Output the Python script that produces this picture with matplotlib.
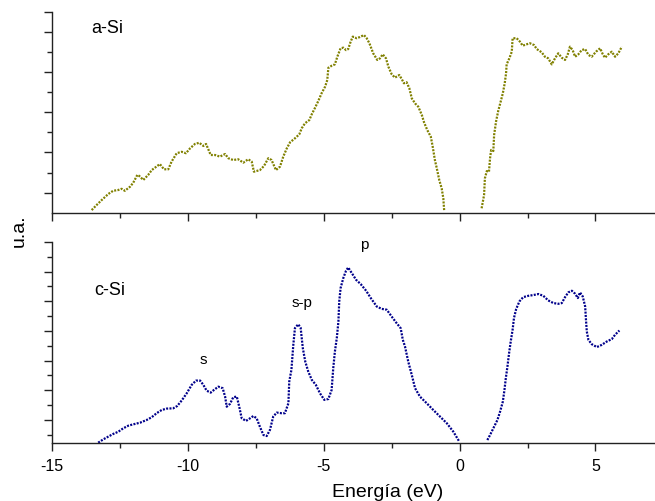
import matplotlib
matplotlib.use("Agg")
import matplotlib.pyplot as plt
from matplotlib.ticker import FixedLocator, FuncFormatter
import numpy as np

plt.rcParams['font.family'] = ['Liberation Sans', 'DejaVu Sans']
plt.rcParams['axes.unicode_minus'] = False

# ---- a-Si (top panel) : energy (eV), intensity (a.u.) ----
asi_val_E = [-13.54, -13.36, -13.17, -12.93, -12.75, -12.56, -12.44, -12.32, -12.13, -12.01,
             -11.86, -11.79, -11.64, -11.46, -11.33, -11.13, -11.03, -10.88, -10.72, -10.60,
             -10.41, -10.23, -10.07, -9.92, -9.74, -9.58, -9.43, -9.33, -9.16, -9.00,
             -8.82, -8.63, -8.51, -8.33, -8.15, -7.96, -7.78, -7.65, -7.57, -7.35,
             -7.20, -7.04, -6.92, -6.76, -6.61, -6.49, -6.36, -6.24, -6.06, -5.90,
             -5.81, -5.69, -5.53, -5.44, -5.32, -5.20, -5.08, -4.95, -4.87, -4.83,
             -4.71, -4.59, -4.50, -4.38, -4.28, -4.18, -4.10, -4.01, -3.93, -3.79,
             -3.67, -3.52, -3.42, -3.32, -3.18, -3.03, -2.93, -2.83, -2.71, -2.62,
             -2.50, -2.38, -2.22, -2.13, -2.05, -1.95, -1.85, -1.76, -1.64, -1.52,
             -1.39, -1.31, -1.19, -1.06, -0.99, -0.91, -0.84, -0.75, -0.66, -0.60, -0.57]
asi_val_I = [0.13, 0.38, 0.63, 0.93, 1.09, 1.13, 1.19, 1.09, 1.29, 1.49,
             1.88, 1.83, 1.63, 1.88, 2.12, 2.32, 2.42, 2.16, 2.16, 2.54,
             2.96, 3.03, 2.96, 3.20, 3.42, 3.48, 3.32, 3.42, 2.87, 2.87,
             2.79, 2.92, 2.71, 2.62, 2.66, 2.49, 2.66, 2.54, 2.04, 2.12,
             2.32, 2.71, 2.62, 2.12, 2.29, 2.79, 3.20, 3.50, 3.70, 3.90,
             4.20, 4.45, 4.61, 4.90, 5.22, 5.56, 5.94, 6.27, 6.60, 7.21,
             7.31, 7.38, 7.76, 8.18, 8.21, 8.09, 8.14, 8.51, 8.76, 8.68,
             8.74, 8.84, 8.68, 8.43, 7.93, 7.60, 7.68, 7.88, 7.68, 7.26,
             6.89, 6.72, 6.85, 6.65, 6.44, 6.49, 6.19, 5.69, 5.44, 5.27,
             4.86, 4.50, 4.11, 3.78, 3.28, 2.62, 2.21, 1.63, 1.21, 0.72, 0.13]

asi_cond_E = [0.81, 0.90, 0.93, 1.00, 1.08, 1.12, 1.16, 1.24, 1.27, 1.34,
              1.42, 1.51, 1.59, 1.66, 1.71, 1.73, 1.83, 1.92, 1.95, 2.10,
              2.22, 2.32, 2.47, 2.59, 2.74, 2.84, 3.02, 3.14, 3.26, 3.39,
              3.51, 3.63, 3.76, 3.88, 3.98, 4.06, 4.16, 4.25, 4.37, 4.49,
              4.62, 4.74, 4.86, 5.02, 5.17, 5.27, 5.35, 5.47, 5.60, 5.72,
              5.84, 5.97]
asi_cond_I = [0.22, 0.88, 1.71, 2.07, 2.04, 2.71, 3.12, 3.07, 3.87, 4.53,
              5.06, 5.52, 5.94, 6.44, 6.94, 7.38, 7.68, 8.01, 8.68, 8.68,
              8.51, 8.31, 8.38, 8.43, 8.34, 8.14, 7.98, 7.76, 7.68, 7.38,
              7.68, 7.93, 7.71, 7.60, 7.88, 8.26, 8.09, 7.76, 7.88, 8.09,
              8.14, 7.85, 7.76, 8.01, 8.18, 7.88, 7.71, 7.88, 8.01, 7.76,
              7.93, 8.26]

# ---- c-Si (bottom panel) ----
csi_val_E = [-13.30, -13.11, -12.93, -12.75, -12.56, -12.38, -12.19, -12.01, -11.76, -11.52,
             -11.33, -11.15, -10.96, -10.78, -10.54, -10.39, -10.23, -10.04, -9.86, -9.70,
             -9.55, -9.43, -9.31, -9.16, -9.04, -8.88, -8.72, -8.63, -8.57, -8.45,
             -8.33, -8.20, -8.11, -8.02, -7.86, -7.71, -7.59, -7.47, -7.35, -7.22,
             -7.10, -6.98, -6.86, -6.73, -6.55, -6.43, -6.30, -6.27, -6.19, -6.12,
             -6.06, -5.94, -5.85, -5.77, -5.68, -5.57, -5.44, -5.29, -5.14, -4.98,
             -4.83, -4.71, -4.65, -4.59, -4.52, -4.46, -4.43, -4.38, -4.28, -4.18,
             -4.10, -3.97, -3.81, -3.64, -3.44, -3.27, -3.05, -2.87, -2.68, -2.50,
             -2.32, -2.17, -2.09, -2.01, -1.89, -1.76, -1.64, -1.46, -1.21, -0.97,
             -0.72, -0.47, -0.23, -0.01]
csi_val_I = [0.04, 0.27, 0.45, 0.63, 0.78, 1.01, 1.19, 1.28, 1.39, 1.57,
             1.76, 2.03, 2.25, 2.34, 2.36, 2.52, 2.88, 3.38, 3.94, 4.23,
             4.23, 3.94, 3.55, 3.42, 3.60, 3.82, 3.72, 3.15, 2.47, 2.66,
             3.11, 3.15, 2.47, 1.69, 1.51, 1.69, 1.84, 1.69, 1.12, 0.56,
             0.49, 0.90, 1.80, 2.07, 2.03, 2.03, 2.70, 4.16, 4.95, 6.64,
             7.77, 8.03, 7.79, 6.42, 5.51, 4.84, 4.28, 3.94, 3.38, 2.93,
             2.99, 3.60, 5.07, 6.19, 7.09, 8.22, 9.57, 10.47, 11.15, 11.64,
             11.86, 11.49, 11.03, 10.74, 10.29, 9.80, 9.23, 9.07, 9.01, 8.55,
             8.11, 7.77, 6.98, 6.53, 5.51, 4.61, 3.72, 3.15, 2.70, 2.25,
             1.80, 1.35, 0.78, 0.11]

csi_cond_E = [1.02, 1.12, 1.24, 1.39, 1.49, 1.59, 1.65, 1.70, 1.76, 1.82,
              1.88, 1.95, 2.00, 2.08, 2.20, 2.34, 2.53, 2.71, 2.90, 3.08,
              3.26, 3.45, 3.63, 3.76, 3.88, 4.00, 4.13, 4.25, 4.35, 4.43,
              4.53, 4.62, 4.65, 4.68, 4.74, 4.86, 5.05, 5.23, 5.41, 5.60,
              5.72, 5.88]
csi_cond_I = [0.22, 0.56, 1.01, 1.57, 2.14, 2.81, 3.60, 4.39, 5.18, 6.08,
              6.86, 7.66, 8.45, 9.05, 9.57, 9.86, 9.95, 10.00, 10.07, 9.95,
              9.64, 9.46, 9.41, 9.46, 9.86, 10.18, 10.29, 10.09, 9.80, 10.18,
              9.91, 9.23, 8.33, 7.54, 6.98, 6.69, 6.49, 6.64, 6.86, 7.03,
              7.32, 7.61]

x_major = [-15, -10, -5, 0, 5]
x_minor = [-12.5, -7.5, -2.5, 2.5]
panel_labels = ['a-Si', 'c-Si']
peak_labels = ['s', 's-p', 'p']

W, H = 655, 501
fig = plt.figure(figsize=(W / 100, H / 100), dpi=100)

def fx(px):
    return px / W

def fy(py):
    return 1 - py / H

left, right = 52, 655
ax_top = fig.add_axes([fx(left), fy(212.7), fx(right - left), (212.7 - 11.7) / H])
ax_bot = fig.add_axes([fx(left), fy(443.3), fx(right - left), (443.3 - 241.7) / H])

c_top = '#808000'
c_bot = '#00008B'
ls = (0, (0.9, 0.6))
lw = 1.6

ax_top.plot(asi_val_E, asi_val_I, color=c_top, lw=lw, linestyle=ls)
ax_top.plot(asi_cond_E, asi_cond_I, color=c_top, lw=lw, linestyle=ls)
ax_bot.plot(csi_val_E, csi_val_I, color=c_bot, lw=lw, linestyle=ls)
ax_bot.plot(csi_cond_E, csi_cond_I, color=c_bot, lw=lw, linestyle=ls)

ax_top.set_ylim(0, 10)
ax_bot.set_ylim(0, 13.6)

for ax in (ax_top, ax_bot):
    ax.set_xlim(-15, 7.19)
    ax.spines['top'].set_visible(False)
    ax.spines['right'].set_visible(False)
    for s in ('left', 'bottom'):
        ax.spines[s].set_linewidth(1.0)
        ax.spines[s].set_color('#222222')
    ax.xaxis.set_major_locator(FixedLocator(x_major))
    ax.xaxis.set_minor_locator(FixedLocator(x_minor))
    ax.tick_params(which='major', direction='out', length=6, width=1.0, color='#222222')
    ax.tick_params(which='minor', direction='out', length=3.5, width=1.0, color='#222222')
    ax.patch.set_alpha(0)

ax_top.yaxis.set_major_locator(FixedLocator([1, 3, 5, 7, 9, 10]))
ax_top.yaxis.set_minor_locator(FixedLocator([2, 4, 6, 8]))
ax_bot.yaxis.set_major_locator(FixedLocator([1.58, 3.58, 5.58, 7.58, 9.58, 11.58, 13.58]))
ax_bot.yaxis.set_minor_locator(FixedLocator([0.58, 2.58, 4.58, 6.58, 8.58, 10.58, 12.58]))
ax_top.set_yticklabels([])
ax_bot.set_yticklabels([])
ax_top.tick_params(axis='x', which='both', labelbottom=False)
ax_bot.xaxis.set_major_formatter(FuncFormatter(lambda v, p: '%d' % v))
ax_bot.tick_params(axis='x', which='major', labelsize=11.5, pad=5, labelcolor='black')

# panel labels
fig.text(fx(91.7), fy(33.3), panel_labels[0], fontsize=13, va='baseline', ha='left')
fig.text(fx(94.3), fy(295), panel_labels[1], fontsize=13, va='baseline', ha='left')
# peak labels
fig.text(fx(203), fy(364), peak_labels[0], fontsize=11, va='baseline', ha='center')
fig.text(fx(302.5), fy(306.7), peak_labels[1], fontsize=11, va='baseline', ha='center')
fig.text(fx(364), fy(249.3), peak_labels[2], fontsize=11, va='baseline', ha='center')

# axis labels
fig.text(fx(387.5), fy(497.3), 'Energía (eV)', fontsize=14, va='baseline', ha='center')
fig.text(fx(19), fy(231), 'u.a.', fontsize=14, va='center', ha='center', rotation=90)

fig.savefig('out.png', dpi=100)
